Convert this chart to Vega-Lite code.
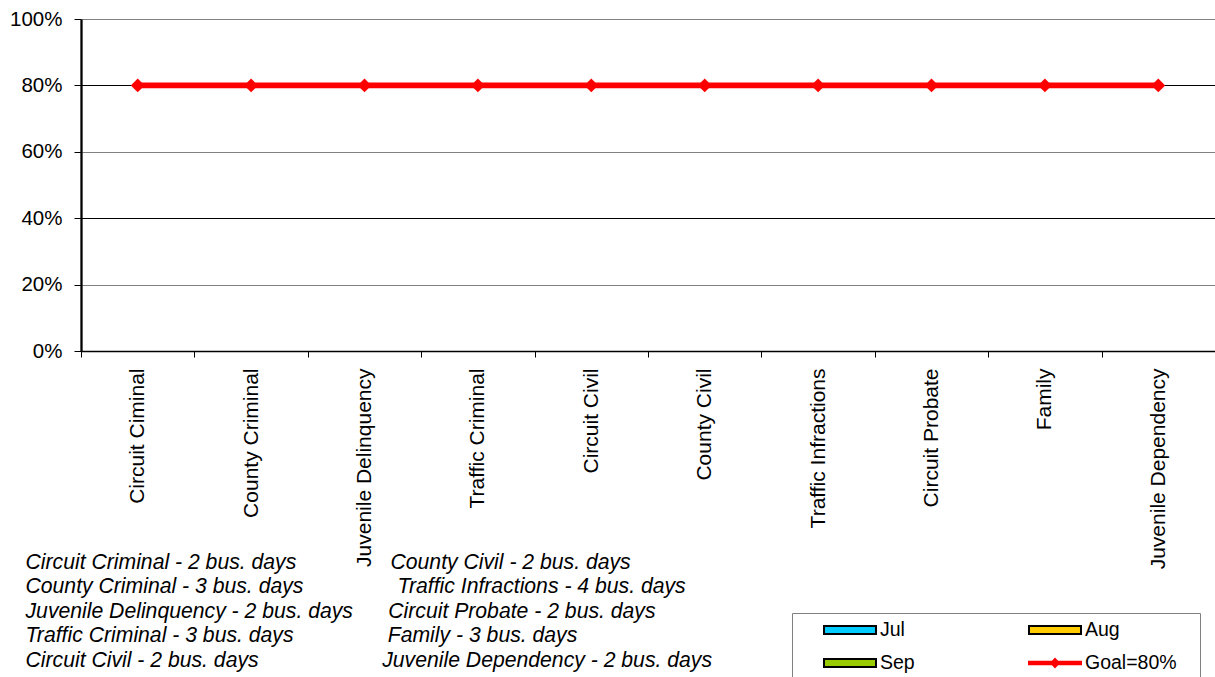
{
  "$schema": "https://vega.github.io/schema/vega-lite/v6.json",
  "width": 1134,
  "height": 332,
  "autosize": {"type": "none"},
  "padding": {"left": 81, "top": 19, "right": 0, "bottom": 326},
  "background": "white",
  "config": {
    "view": {"stroke": null},
    "font": "Liberation Sans",
    "legend": {
      "orient": "none",
      "legendX": 711,
      "legendY": 594,
      "direction": "horizontal",
      "columns": 2,
      "columnPadding": 89,
      "rowPadding": 13,
      "clipHeight": 20,
      "padding": 7,
      "strokeColor": "#808080",
      "fillColor": "white",
      "symbolSize": 2916,
      "symbolOffset": 23,
      "symbolStrokeWidth": 2,
      "symbolOpacity": 1,
      "labelFont": "Liberation Sans",
      "labelFontSize": 19.5,
      "labelColor": "black",
      "labelOffset": 2,
      "labelLimit": 300,
      "titleOrient": "right",
      "titlePadding": 16,
      "titleFontSize": 4,
      "titleColor": "white"
    }
  },
  "datasets": {
    "bars": [
      {"category": "Circuit Ciminal", "series": "Jul", "value": null},
      {"category": "Circuit Ciminal", "series": "Aug", "value": null},
      {"category": "Circuit Ciminal", "series": "Sep", "value": null},
      {"category": "County Criminal", "series": "Jul", "value": null},
      {"category": "County Criminal", "series": "Aug", "value": null},
      {"category": "County Criminal", "series": "Sep", "value": null},
      {"category": "Juvenile Delinquency", "series": "Jul", "value": null},
      {"category": "Juvenile Delinquency", "series": "Aug", "value": null},
      {"category": "Juvenile Delinquency", "series": "Sep", "value": null},
      {"category": "Traffic Criminal", "series": "Jul", "value": null},
      {"category": "Traffic Criminal", "series": "Aug", "value": null},
      {"category": "Traffic Criminal", "series": "Sep", "value": null},
      {"category": "Circuit Civil", "series": "Jul", "value": null},
      {"category": "Circuit Civil", "series": "Aug", "value": null},
      {"category": "Circuit Civil", "series": "Sep", "value": null},
      {"category": "County Civil", "series": "Jul", "value": null},
      {"category": "County Civil", "series": "Aug", "value": null},
      {"category": "County Civil", "series": "Sep", "value": null},
      {"category": "Traffic Infractions", "series": "Jul", "value": null},
      {"category": "Traffic Infractions", "series": "Aug", "value": null},
      {"category": "Traffic Infractions", "series": "Sep", "value": null},
      {"category": "Circuit Probate", "series": "Jul", "value": null},
      {"category": "Circuit Probate", "series": "Aug", "value": null},
      {"category": "Circuit Probate", "series": "Sep", "value": null},
      {"category": "Family", "series": "Jul", "value": null},
      {"category": "Family", "series": "Aug", "value": null},
      {"category": "Family", "series": "Sep", "value": null},
      {"category": "Juvenile Dependency", "series": "Jul", "value": null},
      {"category": "Juvenile Dependency", "series": "Aug", "value": null},
      {"category": "Juvenile Dependency", "series": "Sep", "value": null}
    ],
    "goal": [
      {"category": "Circuit Ciminal", "series": "Goal=80%", "value": 0.8},
      {"category": "County Criminal", "series": "Goal=80%", "value": 0.8},
      {"category": "Juvenile Delinquency", "series": "Goal=80%", "value": 0.8},
      {"category": "Traffic Criminal", "series": "Goal=80%", "value": 0.8},
      {"category": "Circuit Civil", "series": "Goal=80%", "value": 0.8},
      {"category": "County Civil", "series": "Goal=80%", "value": 0.8},
      {"category": "Traffic Infractions", "series": "Goal=80%", "value": 0.8},
      {"category": "Circuit Probate", "series": "Goal=80%", "value": 0.8},
      {"category": "Family", "series": "Goal=80%", "value": 0.8},
      {"category": "Juvenile Dependency", "series": "Goal=80%", "value": 0.8}
    ]
  },
  "encoding": {
    "x": {
      "field": "category",
      "type": "nominal",
      "scale": {
        "domain": ["Circuit Ciminal", "County Criminal", "Juvenile Delinquency", "Traffic Criminal", "Circuit Civil", "County Civil", "Traffic Infractions", "Circuit Probate", "Family", "Juvenile Dependency"],
        "paddingInner": 0,
        "paddingOuter": 0
      },
      "axis": {
        "title": [
          "Circuit Criminal - 2 bus. days\u00a0\u00a0\u00a0\u00a0\u00a0\u00a0\u00a0\u00a0\u00a0\u00a0\u00a0\u00a0\u00a0\u00a0\u00a0\u00a0County Civil - 2 bus. days",
          "County Criminal - 3 bus. days\u00a0\u00a0\u00a0\u00a0\u00a0\u00a0\u00a0\u00a0\u00a0\u00a0\u00a0\u00a0\u00a0\u00a0\u00a0\u00a0Traffic Infractions - 4 bus. days",
          "Juvenile Delinquency - 2 bus. days\u00a0\u00a0\u00a0\u00a0\u00a0\u00a0Circuit Probate - 2 bus. days",
          "Traffic Criminal - 3 bus. days\u00a0\u00a0\u00a0\u00a0\u00a0\u00a0\u00a0\u00a0\u00a0\u00a0\u00a0\u00a0\u00a0\u00a0\u00a0\u00a0Family - 3 bus. days",
          "Circuit Civil - 2 bus. days\u00a0\u00a0\u00a0\u00a0\u00a0\u00a0\u00a0\u00a0\u00a0\u00a0\u00a0\u00a0\u00a0\u00a0\u00a0\u00a0\u00a0\u00a0\u00a0\u00a0\u00a0Juvenile Dependency - 2 bus. days"
        ],
        "titleX": -56,
        "titleY": 200.5,
        "titleAlign": "left",
        "titleBaseline": "top",
        "titleAngle": 0,
        "titleFont": "Liberation Sans",
        "titleFontSize": 21.2,
        "titleFontStyle": "italic",
        "titleFontWeight": "normal",
        "titleColor": "black",
        "titleLineHeight": 24.4,
        "titleLimit": 2000,
        "labelAngle": -90,
        "labelFont": "Liberation Sans",
        "labelFontSize": 21,
        "labelColor": "black",
        "labelPadding": 11,
        "labelLimit": 400,
        "labelOverlap": false,
        "domainColor": "black",
        "domainWidth": 1.3,
        "tickColor": "black",
        "tickSize": 6,
        "tickWidth": 1,
        "tickBand": "extent",
        "grid": false
      }
    },
    "y": {
      "field": "value",
      "type": "quantitative",
      "scale": {"domain": [0, 1], "nice": false},
      "axis": {
        "title": null,
        "values": [0, 0.2, 0.4, 0.6, 0.8, 1],
        "format": ".0%",
        "labelFont": "Liberation Sans",
        "labelFontSize": 20.5,
        "labelColor": "black",
        "labelPadding": 12,
        "tickSize": 7,
        "tickColor": "black",
        "tickWidth": 1,
        "domainColor": "black",
        "domainWidth": 2.3,
        "grid": true,
        "gridColor": {"condition": {"test": "datum.value > 0.39 && datum.value < 0.41 || datum.value > 0.79 && datum.value < 0.81", "value": "#000000"}, "value": "#808080"},
        "gridWidth": 1
      }
    }
  },
  "layer": [
    {
      "data": {"name": "bars"},
      "mark": {"type": "bar", "strokeWidth": 1},
      "encoding": {
        "xOffset": {"field": "series", "type": "nominal", "sort": ["Jul", "Aug", "Sep"]},
        "color": {
          "field": "series",
          "type": "nominal",
          "scale": {
            "domain": ["Jul", "Aug", "Sep", "Goal=80%"],
            "range": ["#00CCFF", "#FFCC00", "#99CC00", "#FF0000"]
          },
          "legend": {"title": "\u00a0"}
        },
        "stroke": {
          "field": "series",
          "type": "nominal",
          "scale": {
            "domain": ["Jul", "Aug", "Sep", "Goal=80%"],
            "range": ["#000000", "#000000", "#000000", "#FF0000"]
          },
          "legend": {"title": "\u00a0"}
        }
      }
    },
    {
      "data": {"name": "bars"},
      "mark": {"type": "point", "filled": true, "strokeWidth": 2, "opacity": 1},
      "encoding": {
        "color": {
          "field": "series",
          "type": "nominal",
          "scale": {
            "domain": ["Jul", "Aug", "Sep", "Goal=80%"],
            "range": ["#00CCFF", "#FFCC00", "#99CC00", "#FF0000"]
          },
          "legend": {"title": "\u00a0"}
        },
        "stroke": {
          "field": "series",
          "type": "nominal",
          "scale": {
            "domain": ["Jul", "Aug", "Sep", "Goal=80%"],
            "range": ["#000000", "#000000", "#000000", "#FF0000"]
          },
          "legend": {"title": "\u00a0"}
        },
        "shape": {
          "field": "series",
          "type": "nominal",
          "scale": {
            "domain": ["Jul", "Aug", "Sep", "Goal=80%"],
            "range": [
              "M-0.963,-0.148H0.963V0.148H-0.963Z",
              "M-0.963,-0.148H0.963V0.148H-0.963Z",
              "M-0.963,-0.148H0.963V0.148H-0.963Z",
              "M-0.963,-0.043H-0.105L0,-0.148L0.105,-0.043H0.963V0.043H0.105L0,0.148L-0.105,0.043H-0.963Z"
            ]
          },
          "legend": {"title": "\u00a0"}
        }
      }
    },
    {
      "data": {"name": "goal"},
      "mark": {
        "type": "line",
        "color": "#FF0000",
        "strokeWidth": 5.7,
        "point": {"shape": "diamond", "size": 190, "filled": true, "color": "#FF0000", "opacity": 1}
      },
      "encoding": {}
    }
  ]
}
